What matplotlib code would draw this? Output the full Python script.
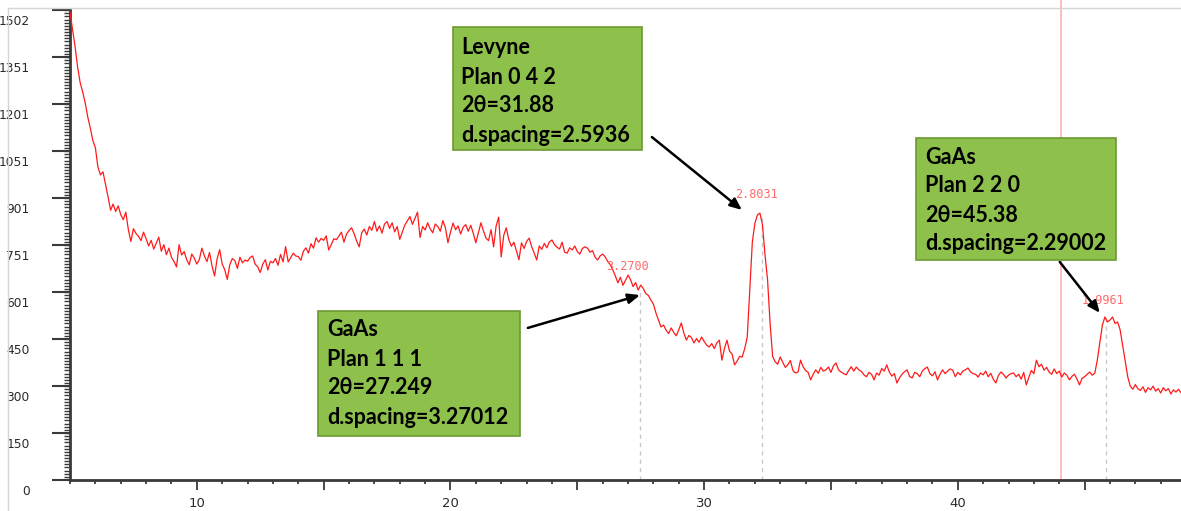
import numpy as np
import matplotlib
matplotlib.use("Agg")
import matplotlib.pyplot as plt
from matplotlib.patches import Rectangle
from matplotlib.lines import Line2D
from matplotlib.ticker import MultipleLocator
import matplotlib.transforms as mtrans

# XRD scan, 0.1 deg steps from 5.0 to 48.8 (one row per degree)
counts_rows = [
    [1495, 1440, 1385, 1320, 1270, 1240, 1205, 1160, 1125, 1085],  # 5
    [1062, 1000, 975, 985, 945, 905, 862, 882, 858, 876],          # 6
    [848, 832, 856, 800, 762, 803, 788, 779, 765, 792],            # 7
    [771, 748, 766, 738, 757, 776, 731, 752, 720, 741],            # 8
    [712, 698, 681, 752, 719, 730, 704, 688, 722, 709],            # 9
    [690, 705, 741, 716, 698, 727, 684, 652, 707, 736],            # 10
    [690, 672, 641, 688, 708, 701, 676, 712, 694, 703],            # 11
    [699, 711, 716, 690, 681, 663, 690, 704, 671, 699],            # 12
    [694, 708, 686, 721, 697, 746, 697, 710, 725, 716],            # 13
    [714, 702, 731, 742, 725, 755, 741, 774, 760, 772],            # 14
    [766, 780, 735, 752, 771, 768, 779, 792, 760, 786],            # 15
    [797, 806, 787, 764, 745, 790, 802, 783, 810, 798],            # 16
    [826, 795, 812, 789, 818, 826, 804, 822, 793, 810],            # 17
    [769, 792, 815, 828, 842, 817, 836, 856, 775, 810],            # 18
    [799, 822, 803, 790, 818, 810, 795, 829, 806, 758],            # 19
    [792, 821, 800, 812, 786, 808, 816, 795, 814, 788],            # 20
    [758, 790, 822, 796, 773, 765, 800, 745, 812, 840],            # 21
    [713, 782, 806, 768, 747, 760, 732, 704, 758, 740],            # 22
    [762, 773, 746, 725, 703, 748, 737, 756, 742, 761],            # 23
    [767, 752, 744, 738, 760, 728, 725, 742, 735, 748],            # 24
    [730, 722, 740, 745, 741, 728, 733, 712, 703, 716],            # 25
    [722, 713, 698, 688, 671, 652, 630, 648, 622, 638],            # 26
    [655, 640, 618, 631, 607, 623, 612, 596, 590, 575],            # 27
    [562, 534, 512, 489, 495, 479, 468, 486, 472, 461],            # 28
    [480, 502, 470, 447, 462, 455, 438, 452, 440, 457],            # 29
    [443, 431, 425, 436, 420, 438, 447, 383, 420, 447],            # 30
    [412, 403, 368, 380, 395, 393, 420, 457, 607, 760],            # 31
    [820, 847, 853, 815, 720, 640, 502, 395, 378, 370],            # 32
    [393, 376, 360, 368, 382, 350, 342, 345, 383, 362],            # 33
    [350, 344, 320, 338, 352, 341, 360, 348, 352, 361],            # 34
    [344, 365, 374, 352, 345, 340, 336, 350, 362, 348],            # 35
    [361, 352, 347, 336, 330, 344, 338, 320, 342, 335],            # 36
    [356, 348, 368, 345, 332, 340, 310, 326, 338, 346],            # 37
    [352, 331, 326, 344, 340, 330, 348, 356, 361, 340],            # 38
    [333, 346, 320, 338, 352, 340, 348, 355, 351, 330],            # 39
    [344, 336, 348, 352, 358, 346, 340, 338, 329, 342],            # 40
    [336, 348, 330, 341, 322, 310, 334, 345, 338, 326],            # 41
    [335, 340, 342, 330, 338, 322, 344, 304, 328, 350],            # 42
    [340, 383, 362, 370, 351, 360, 345, 338, 355, 340],            # 43
    [348, 329, 342, 335, 320, 331, 338, 322, 304, 325],            # 44
    [330, 338, 345, 335, 341, 383, 440, 495, 521, 505],            # 45
    [511, 521, 500, 505, 480, 430, 380, 330, 300, 290],            # 46
    [305, 292, 286, 298, 280, 295, 288, 300, 284, 292],            # 47
    [278, 295, 285, 292, 275, 288, 281, 290, 279],                 # 48
]
counts = np.array([c for row in counts_rows for c in row], dtype=float)
two_theta = np.round(5.0 + 0.1 * np.arange(len(counts)), 1)

# peak markers (d-spacing labels)
peak_pos = [27.47, 32.28, 45.84]
peak_cnt = [600, 853, 521]
peak_lbl = ["3.2700", "2.8031", "1.9961"]
peak_lbl_off = [(-8.6, 18.7), (-3.6, 13.7), (-2.0, 12.2)]

cursor_x = 44.06

y_ticks = [0, 150.2, 300.4, 450.6, 600.8, 751, 901.2, 1051.4, 1201.6, 1351.8, 1502]
y_tick_labels = ["0", "150", "300", "450", "601", "751", "901", "1051", "1201", "1351", "1502"]
x_ticks = [10, 15, 20, 25, 30, 35, 40, 45]
x_tick_labels = ["10", "", "20", "", "30", "", "40", ""]

# annotation boxes: lines of text, arrow tail, arrow head
box_lines = [
    ["Levyne", "Plan 0 4 2", "2\u03b8=31.88", "d.spacing=2.5936"],
    ["GaAs", "Plan 1 1 1", "2\u03b8=27.249", "d.spacing=3.27012"],
    ["GaAs", "Plan 2 2 0", "2\u03b8=45.38", "d.spacing=2.29002"],
]
arrow_tail = [(27.94, 1096), (23.05, 486), (44.02, 697)]
arrow_head = [(31.49, 863), (27.47, 591), (45.60, 534)]

W, H = 1181, 511
fig = plt.figure(figsize=(W / 100, H / 100), dpi=100)
ax = fig.add_axes([70 / W, 31 / H, (W - 70) / W, 470 / H])

ax.plot(two_theta, counts, color="#ff1a1a", lw=0.9, zorder=3)
ax.axvline(cursor_x, color="#ffb8b8", lw=1.3, zorder=1, clip_on=False, ymax=1.02)
ax.vlines(peak_pos, 0, peak_cnt, colors="#c8c8c8", linestyles=(0, (3, 3)), lw=1, zorder=2)
for px, pc, lbl, off in zip(peak_pos, peak_cnt, peak_lbl, peak_lbl_off):
    ax.annotate(lbl, (px, pc), xytext=off, textcoords="offset points",
                ha="center", va="center", fontsize=8.5, color="#ff6b6b",
                family="DejaVu Sans Mono", zorder=4)

ax.set_xlim(5, 48.8)
ax.set_ylim(0, 1502)

for s in ["top", "right"]:
    ax.spines[s].set_visible(False)
ax.spines["left"].set_color("#3a3a3a")
ax.spines["left"].set_linewidth(2)
ax.spines["bottom"].set_color("#3a3a3a")
ax.spines["bottom"].set_linewidth(2)

ax.set_yticks(y_ticks)
ax.set_yticklabels(y_tick_labels)
ax.yaxis.set_minor_locator(MultipleLocator(10.01))
ax.tick_params(axis="y", which="major", length=13, width=1.5, color="#3a3a3a",
               pad=16, labelsize=8.8, labelcolor="#2a2a2a")
ax.tick_params(axis="y", which="minor", length=4, width=1, color="#3a3a3a")
shift = mtrans.ScaledTranslation(0, -7.2 / 72, fig.dpi_scale_trans)
for lab in ax.get_yticklabels():
    lab.set_transform(lab.get_transform() + shift)

ax.set_xticks(x_ticks)
ax.set_xticklabels(x_tick_labels)
ax.xaxis.set_minor_locator(MultipleLocator(1))
ax.tick_params(axis="x", which="major", length=7, width=1.3, color="#3a3a3a",
               pad=5, labelsize=9.5, labelcolor="#2a2a2a")
ax.tick_params(axis="x", which="minor", length=3, width=1.3, color="#3a3a3a")

# green text boxes, pixel geometry of the screenshot
box_rects = [(453, 27, 189, 123), (318, 311, 202, 125), (916, 138, 200, 122)]
box_text_x = [461, 327, 925]
box_text_y0 = [48, 330, 157]
for (bx, by, bw, bh), lines, tx, ty0 in zip(box_rects, box_lines, box_text_x, box_text_y0):
    fig.add_artist(Rectangle((bx / W, 1 - (by + bh) / H), bw / W, bh / H,
                             transform=fig.transFigure, facecolor="#8dc14c",
                             edgecolor="#6c9a33", lw=1.2, zorder=5))
    for k, line in enumerate(lines):
        fig.text(tx / W, 1 - (ty0 + 29 * k) / H, line, ha="left", va="center",
                 fontsize=15.5, fontweight="bold", family="Lato", color="#000000",
                 zorder=6)

for tail, head in zip(arrow_tail, arrow_head):
    ax.annotate("", xy=head, xytext=tail,
                arrowprops=dict(arrowstyle="-|>,head_length=0.7,head_width=0.3",
                                color="black", lw=1.8, shrinkA=0, shrinkB=0),
                zorder=7, annotation_clip=False)

# light frame of the screenshot
fig.add_artist(Line2D([8 / W, 1], [1 - 8 / H, 1 - 8 / H], transform=fig.transFigure,
                      color="#d4d4d4", lw=1))
fig.add_artist(Line2D([8 / W, 8 / W], [0, 1 - 8 / H], transform=fig.transFigure,
                      color="#d4d4d4", lw=1))

fig.savefig("out.png", dpi=100)
